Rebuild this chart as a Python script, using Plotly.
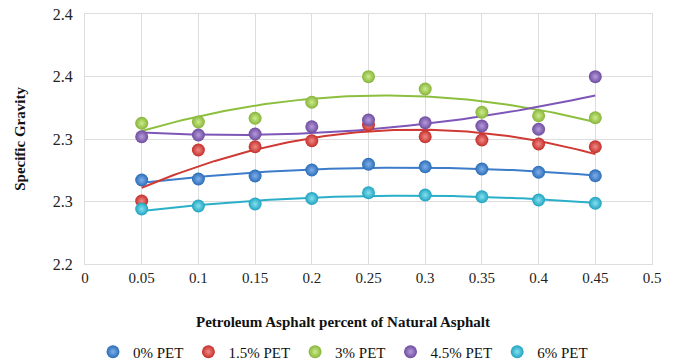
import numpy as np
import plotly.graph_objects as go

x_vals = [0.05, 0.1, 0.15, 0.2, 0.25, 0.3, 0.35, 0.4, 0.45]
series_names = ["0% PET", "1.5% PET", "3% PET", "4.5% PET", "6% PET"]
pet_0 = [2.2672, 2.2680, 2.2704, 2.2752, 2.2798, 2.2778, 2.2760, 2.2734, 2.2706]
pet_15 = [2.2504, 2.2912, 2.2938, 2.2986, 2.3112, 2.3018, 2.2992, 2.2960, 2.2938]
pet_3 = [2.3126, 2.3136, 2.3166, 2.3294, 2.3499, 2.3400, 2.3214, 2.3186, 2.3170]
pet_45 = [2.3018, 2.3032, 2.3040, 2.3098, 2.3152, 2.3130, 2.3104, 2.3078, 2.3499]
pet_6 = [2.2440, 2.2464, 2.2480, 2.2525, 2.2570, 2.2552, 2.2538, 2.2512, 2.2486]
x_ticks = [0, 0.05, 0.1, 0.15, 0.2, 0.25, 0.3, 0.35, 0.4, 0.45, 0.5]
x_tick_text = ["0", "0.05", "0.1", "0.15", "0.2", "0.25", "0.3", "0.35", "0.4", "0.45", "0.5"]
y_ticks = [2.2, 2.25, 2.3, 2.35, 2.4]
y_tick_text = ["2.2", "2.3", "2.3", "2.4", "2.4"]

all_series = [pet_0, pet_15, pet_3, pet_45, pet_6]
marker_colors = ["#2B6CB8", "#C42E2A", "#86B43A", "#6E4C9E", "#1FA3BF"]
center_colors = ["#7FB0EA", "#F08A84", "#CDEB8A", "#B59BDB", "#86E0F0"]
line_colors = ["#3C7CC9", "#D03A35", "#8DBF3F", "#7E56B8", "#2BAFC9"]

serif = "Liberation Serif, Times New Roman, serif"

fig = go.Figure()
xs = np.linspace(min(x_vals), max(x_vals), 100)
for name, ys, lc in zip(series_names, all_series, line_colors):
    coef = np.polyfit(x_vals, ys, 2)
    fig.add_trace(go.Scatter(x=xs, y=np.polyval(coef, xs), mode="lines",
                             line=dict(color=lc, width=2), showlegend=False,
                             hoverinfo="skip"))
for name, ys, mc, cc in zip(series_names, all_series, marker_colors, center_colors):
    fig.add_trace(go.Scatter(x=x_vals, y=ys, mode="markers", name=name,
                             marker=dict(size=13, color=mc,
                                         gradient=dict(type="radial", color=cc),
                                         line=dict(width=0))))

fig.update_layout(
    width=678, height=364,
    margin=dict(l=85, r=26, t=14, b=100, autoexpand=False),
    paper_bgcolor="white", plot_bgcolor="white",
    font=dict(family=serif, size=15, color="#222222"),
    showlegend=True,
    legend=dict(orientation="h", x=0.455, xanchor="center", y=-0.352, yanchor="middle",
                font=dict(family=serif, size=15, color="#111111"),
                itemwidth=30, tracegroupgap=0, bgcolor="rgba(0,0,0,0)"),
    xaxis=dict(range=[0, 0.5], tickmode="array", tickvals=x_ticks, ticktext=x_tick_text,
               showgrid=True, gridcolor="#DDDDDD", gridwidth=1, zeroline=False,
               showline=True, linecolor="#DDDDDD", mirror=True, ticks="",
               tickfont=dict(family=serif, size=15, color="#222222")),
    yaxis=dict(range=[2.2, 2.4], tickmode="array", tickvals=y_ticks, ticktext=y_tick_text,
               showgrid=True, gridcolor="#DDDDDD", gridwidth=1, zeroline=False,
               showline=True, linecolor="#DDDDDD", mirror=True, ticks="",
               ticklabelstandoff=8,
               tickfont=dict(family=serif, size=16, color="#222222")),
    annotations=[
        dict(text="<b>Petroleum Asphalt percent of Natural Asphalt</b>", xref="paper", yref="paper",
             x=0.455, y=-0.232, xanchor="center", yanchor="middle", showarrow=False,
             font=dict(family=serif, size=15, color="#111111")),
        dict(text="<b>Specific Gravity</b>", xref="paper", yref="paper", textangle=-90,
             x=-0.115, y=0.5, xanchor="center", yanchor="middle", showarrow=False,
             font=dict(family=serif, size=15, color="#111111")),
    ],
)

fig.write_html("out.html")
